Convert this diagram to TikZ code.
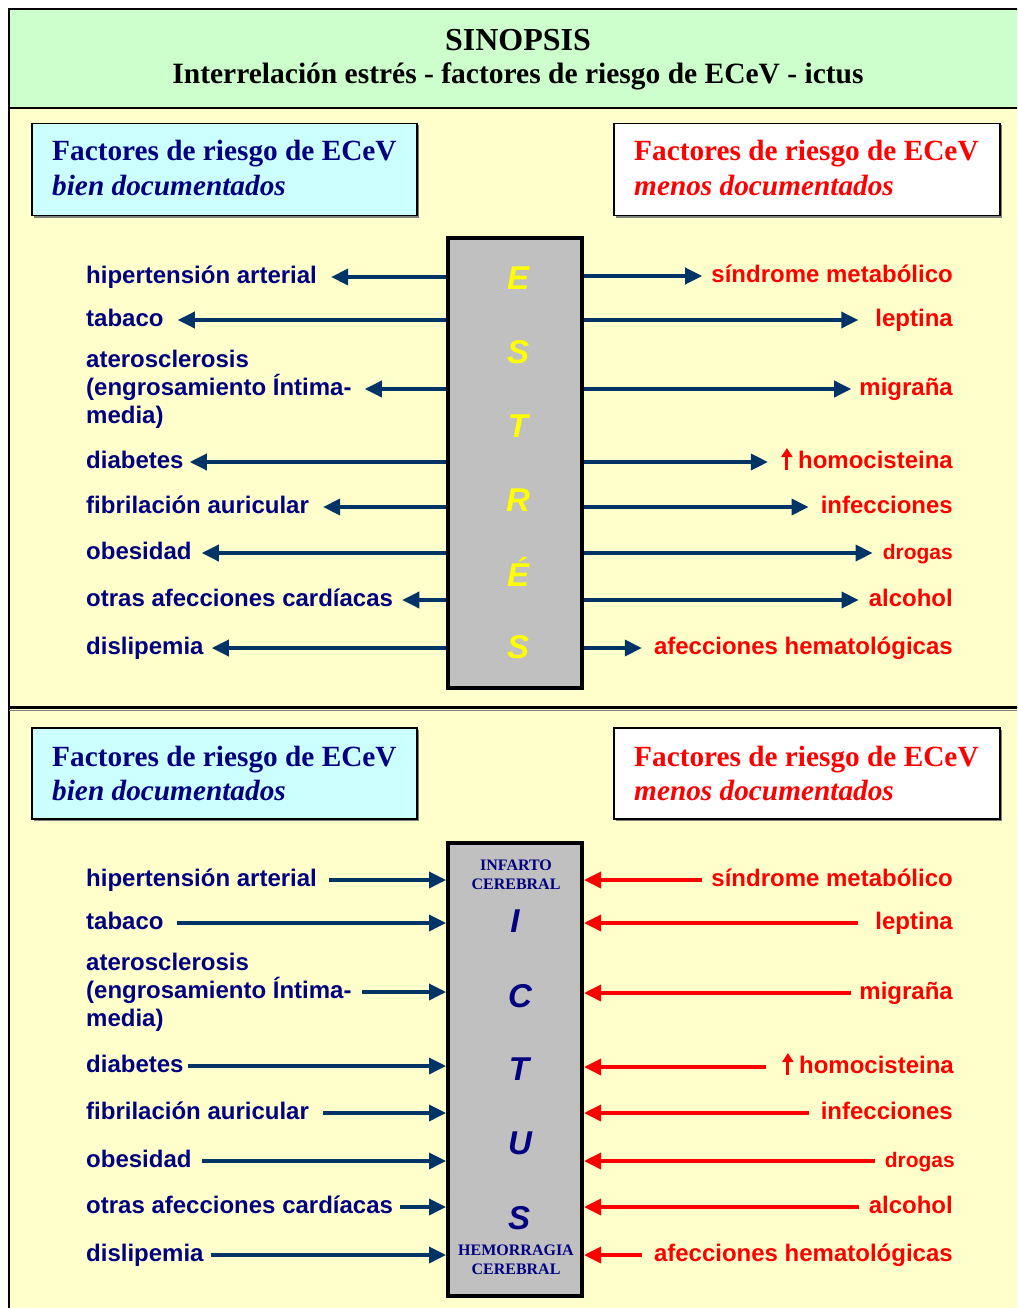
\documentclass[tikz,border=0pt]{standalone}
\usepackage{fontspec}
\setmainfont{Liberation Serif}
\setsansfont{Liberation Sans}
\usetikzlibrary{arrows.meta}
\definecolor{hdrgreen}{HTML}{CCFFCC}
\definecolor{panelyel}{HTML}{FFFFCC}
\definecolor{boxcyan}{HTML}{CCFFFF}
\definecolor{navy}{HTML}{000080}
\definecolor{arrblue}{HTML}{003366}
\definecolor{stressgrey}{HTML}{C0C0C0}
\definecolor{letyel}{HTML}{FFFF00}
\definecolor{shadowgrey}{HTML}{808080}
\begin{document}
\begin{tikzpicture}[x=1pt,y=-1pt,
  lab/.style={font=\sffamily\bfseries\fontsize{24}{28}\selectfont, inner sep=0pt, text height=17pt, text depth=5pt},
  llab/.style={lab, text=navy, anchor=west},
  rlab/.style={lab, text=red, anchor=east},
  mlab/.style={font=\sffamily\bfseries\fontsize{24}{28}\selectfont, inner sep=0pt, text=navy, anchor=west, align=left},
  barr/.style={arrblue, line width=3.5pt, -{Triangle[length=17pt,width=16pt]}},
  rarr/.style={red, line width=3.5pt, -{Triangle[length=17pt,width=16pt]}},
  upmark/.style={red, line width=3pt, -{Triangle[length=9pt,width=11pt]}},
  cbox/.style={draw=black, line width=4pt, fill=stressgrey, minimum width=134pt, inner sep=0pt, outer sep=0pt},
  tbox/.style={draw=black, line width=1.2pt, minimum width=385pt, minimum height=92pt, inner sep=0pt},
  ttext/.style={font=\bfseries\fontsize{29.3}{34}\selectfont, inner sep=0pt, anchor=base west},
  sletter/.style={font=\sffamily\bfseries\itshape\fontsize{33}{36}\selectfont, inner sep=0pt},
  smallcap/.style={font=\bfseries\fontsize{16}{19}\selectfont, text=navy, align=center, inner sep=0pt}
]
\useasboundingbox (0,0) rectangle (1017,1308);
\clip (0,0) rectangle (1017,1308);
\fill[white] (0,0) rectangle (1017,1308);
% panels
\fill[hdrgreen] (9,9) rectangle (1040,108);
\fill[panelyel] (9,108) rectangle (1040,707);
\fill[panelyel] (9,707) rectangle (1040,1330);
\draw[black, line width=2pt] (9,1330) -- (9,9) -- (1040,9);
\draw[black, line width=2pt] (9,108) -- (1040,108);
\draw[shadowgrey, line width=1pt] (9,710) -- (1040,710);
\draw[black, line width=3pt] (9,707) -- (1040,707);
% header
\node[font=\bfseries\fontsize{32}{36}\selectfont, inner sep=0pt] (t1) at (518,40) {SINOPSIS};
\node[font=\bfseries\fontsize{29.5}{34}\selectfont, inner sep=0pt] (t2) at (518,76) {Interrelación estrés - factores de riesgo de ECeV - ictus};
% title boxes with shadow
\fill[shadowgrey] (34,125) rectangle (419,218);
\fill[shadowgrey] (616,125) rectangle (1002,218);
\fill[shadowgrey] (34,730) rectangle (419,821);
\fill[shadowgrey] (616,730) rectangle (1002,821);
\node[tbox, fill=boxcyan] (bw1) at (224.5,169.5) {};
\node[tbox, fill=white, minimum width=386pt] (mw1) at (807,169.5) {};
\node[tbox, fill=boxcyan, minimum height=91pt] (bw2) at (224.5,773.5) {};
\node[tbox, fill=white, minimum width=386pt, minimum height=91pt] (mw2) at (807,773.5) {};
\node[ttext, text=navy] (bw1a) at (52,161) {Factores de riesgo de ECeV};
\node[ttext, text=navy] (bw1b) at (52,195) {\itshape bien documentados};
\node[ttext, text=red] (mw1a) at (634,161) {Factores de riesgo de ECeV};
\node[ttext, text=red] (mw1b) at (634,195) {\itshape menos documentados};
\node[ttext, text=navy] (bw2a) at (52,766) {Factores de riesgo de ECeV};
\node[ttext, text=navy] (bw2b) at (52,800) {\itshape bien documentados};
\node[ttext, text=red] (mw2a) at (634,766) {Factores de riesgo de ECeV};
\node[ttext, text=red] (mw2b) at (634,800) {\itshape menos documentados};

% ===== upper panel =====
\node[cbox, minimum height=450pt] (est) at (515,463) {};
\node[sletter, text=letyel] (e1) at (518,278) {E};
\node[sletter, text=letyel] (e2) at (518,352) {S};
\node[sletter, text=letyel] (e3) at (518,426) {T};
\node[sletter, text=letyel] (e4) at (518,500) {R};
\node[sletter, text=letyel] (e5) at (518,572) {É};
\node[sletter, text=letyel] (e6) at (518,647) {S};

\node[llab] (ahip) at (86,277) {hipertensión arterial};
\node[llab] (atab) at (86,320) {tabaco};
\node[mlab] (aath) at (86,389) {aterosclerosis\\(engrosamiento Íntima-\\media)};
\node[llab] (adia) at (86,462) {diabetes};
\node[llab] (afib) at (86,507) {fibrilación auricular};
\node[llab] (aobe) at (86,553) {obesidad};
\node[llab] (aotr) at (86,600) {otras afecciones cardíacas};
\node[llab] (adis) at (86,648) {dislipemia};

\node[rlab] (asin) at (953,276) {síndrome metabólico};
\node[rlab] (alep) at (953,320) {leptina};
\node[rlab] (amig) at (953,389) {migraña};
\node[rlab] (ahom) at (953,462) {\hspace*{16pt}homocisteina};
\node[rlab] (ainf) at (953,507) {infecciones};
\node[rlab, font=\sffamily\bfseries\fontsize{21}{24}\selectfont] (adro) at (953,553) {drogas};
\node[rlab] (aalc) at (953,600) {alcohol};
\node[rlab] (aafe) at (953,648) {afecciones hematológicas};
\draw[upmark] ([xshift=5pt,yshift=-8pt]ahom.west) -- ([xshift=5pt,yshift=14pt]ahom.west);

\draw[barr, shorten >=14pt] (est.west |- ahip.east) -- (ahip.east);
\draw[barr, shorten >=14pt] (est.west |- atab.east) -- (atab.east);
\draw[barr, shorten >=13pt] (est.west |- aath.east) -- (aath.east);
\draw[barr, shorten >=6pt] (est.west |- adia.east) -- (adia.east);
\draw[barr, shorten >=14pt] (est.west |- afib.east) -- (afib.east);
\draw[barr, shorten >=10pt] (est.west |- aobe.east) -- (aobe.east);
\draw[barr, shorten >=9pt] (est.west |- aotr.east) -- (aotr.east);
\draw[barr, shorten >=8pt] (est.west |- adis.east) -- (adis.east);

\draw[barr, shorten >=9pt] (est.east |- asin.west) -- (asin.west);
\draw[barr, shorten >=17pt] (est.east |- alep.west) -- (alep.west);
\draw[barr, shorten >=8pt] (est.east |- amig.west) -- (amig.west);
\draw[barr, shorten >=14pt] (est.east |- ahom.west) -- (ahom.west);
\draw[barr, shorten >=12pt] (est.east |- ainf.west) -- (ainf.west);
\draw[barr, shorten >=10pt] (est.east |- adro.west) -- (adro.west);
\draw[barr, shorten >=10pt] (est.east |- aalc.west) -- (aalc.west);
\draw[barr, shorten >=12pt] (est.east |- aafe.west) -- (aafe.west);
% redraw box border over line starts
\draw[black, line width=4pt] (est.south west) rectangle (est.north east);

% ===== lower panel =====
\node[cbox, minimum height=453pt] (ict) at (515,1069.5) {};
\node[smallcap] (inf) at (516,875) {INFARTO\\CEREBRAL};
\node[sletter, text=navy] (i1) at (515,921) {I};
\node[sletter, text=navy] (i2) at (520,996) {C};
\node[sletter, text=navy] (i3) at (519,1069) {T};
\node[sletter, text=navy] (i4) at (520,1143) {U};
\node[sletter, text=navy] (i5) at (519,1218) {S};
\node[smallcap] (hem) at (516,1260) {HEMORRAGIA\\CEREBRAL};

\node[llab] (bhip) at (86,880) {hipertensión arterial};
\node[llab] (btab) at (86,923) {tabaco};
\node[mlab] (bath) at (86,992) {aterosclerosis\\(engrosamiento Íntima-\\media)};
\node[llab] (bdia) at (86,1066) {diabetes};
\node[llab] (bfib) at (86,1113) {fibrilación auricular};
\node[llab] (bobe) at (86,1161) {obesidad};
\node[llab] (botr) at (86,1207) {otras afecciones cardíacas};
\node[llab] (bdis) at (86,1255) {dislipemia};

\node[rlab] (bsin) at (953,880) {síndrome metabólico};
\node[rlab] (blep) at (953,923) {leptina};
\node[rlab] (bmig) at (953,993) {migraña};
\node[rlab] (bhom) at (954,1067) {\hspace*{16pt}homocisteina};
\node[rlab] (binf) at (953,1113) {infecciones};
\node[rlab, font=\sffamily\bfseries\fontsize{21}{24}\selectfont] (bdro) at (955,1161) {drogas};
\node[rlab] (balc) at (953,1207) {alcohol};
\node[rlab] (bafe) at (953,1255) {afecciones hematológicas};
\draw[upmark] ([xshift=5pt,yshift=-8pt]bhom.west) -- ([xshift=5pt,yshift=14pt]bhom.west);

\draw[barr, shorten <=12pt, shorten >=2pt] (bhip.east) -- (ict.west |- bhip.east);
\draw[barr, shorten <=13pt, shorten >=2pt] (btab.east) -- (ict.west |- btab.east);
\draw[barr, shorten <=10pt, shorten >=2pt] (bath.east) -- (ict.west |- bath.east);
\draw[barr, shorten <=4pt, shorten >=2pt] (bdia.east) -- (ict.west |- bdia.east);
\draw[barr, shorten <=14pt, shorten >=2pt] (bfib.east) -- (ict.west |- bfib.east);
\draw[barr, shorten <=10pt, shorten >=2pt] (bobe.east) -- (ict.west |- bobe.east);
\draw[barr, shorten <=7pt, shorten >=2pt] (botr.east) -- (ict.west |- botr.east);
\draw[barr, shorten <=7pt, shorten >=2pt] (bdis.east) -- (ict.west |- bdis.east);

\draw[rarr, shorten <=9pt, shorten >=2pt] (bsin.west) -- (ict.east |- bsin.west);
\draw[rarr, shorten <=17pt, shorten >=2pt] (blep.west) -- (ict.east |- blep.west);
\draw[rarr, shorten <=8pt, shorten >=2pt] (bmig.west) -- (ict.east |- bmig.west);
\draw[rarr, shorten <=17pt, shorten >=2pt] (bhom.west) -- (ict.east |- bhom.west);
\draw[rarr, shorten <=12pt, shorten >=2pt] (binf.west) -- (ict.east |- binf.west);
\draw[rarr, shorten <=10pt, shorten >=2pt] (bdro.west) -- (ict.east |- bdro.west);
\draw[rarr, shorten <=10pt, shorten >=2pt] (balc.west) -- (ict.east |- balc.west);
\draw[rarr, shorten <=12pt, shorten >=2pt] (bafe.west) -- (ict.east |- bafe.west);
\end{tikzpicture}
\end{document}
